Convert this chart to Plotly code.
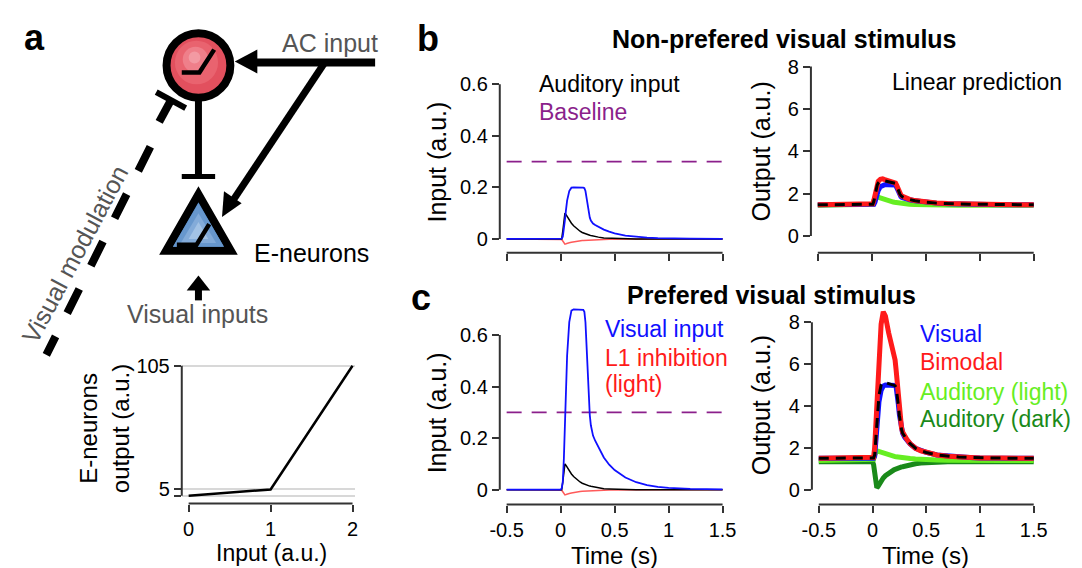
import plotly.graph_objects as go

W, H = 1082, 568
FONT = "Liberation Sans, Arial, sans-serif"
AX = "#333333"

# ---------------- data ----------------
# panel a inset: threshold-linear transfer function
inset_input = [0, 1, 2]
inset_output = [0, 5, 105]

# time grid (s)
time = [-0.5, 0.0, 0.01, 0.02, 0.03, 0.04, 0.05, 0.06, 0.08, 0.10, 0.12, 0.15, 0.18,
        0.20, 0.21, 0.22, 0.23, 0.24, 0.25, 0.26, 0.27, 0.28, 0.30, 0.32, 0.35,
        0.40, 0.45, 0.50, 0.60, 0.70, 0.80, 0.90, 1.00, 1.20, 1.50]

# inputs
auditory_input = [0, 0, 0.0, 0.03, 0.08, 0.10, 0.094, 0.087, 0.073, 0.061, 0.051, 0.039, 0.030,
                  0.025, 0.023, 0.021, 0.019, 0.018, 0.016, 0.015, 0.014, 0.013, 0.011, 0.009, 0.007,
                  0.004, 0.003, 0.002, 0.001, 0, 0, 0, 0, 0, 0]
l1_inhibition = [0, 0, -0.002, -0.008, -0.015, -0.020, -0.019, -0.017, -0.015, -0.013, -0.011, -0.009, -0.007,
                 -0.006, -0.0057, -0.0054, -0.0051, -0.0048, -0.0045, -0.0043, -0.004, -0.0038, -0.0034, -0.003, -0.0025,
                 -0.0018, -0.0013, -0.001, -0.0005, -0.0002, 0, 0, 0, 0, 0]
visual_input_nonpref = [0, 0, 0.0014, 0.0086, 0.034, 0.074, 0.114, 0.149, 0.186, 0.199, 0.2, 0.2, 0.2,
                        0.2, 0.199, 0.197, 0.186, 0.16, 0.129, 0.103, 0.083, 0.071, 0.06, 0.054, 0.047,
                        0.036, 0.028, 0.022, 0.013, 0.008, 0.005, 0.003, 0.002, 0.001, 0]
visual_input_pref = [0, 0, 0.005, 0.03, 0.12, 0.26, 0.40, 0.52, 0.65, 0.695, 0.70, 0.70, 0.70,
                     0.70, 0.698, 0.69, 0.65, 0.56, 0.45, 0.36, 0.29, 0.25, 0.21, 0.19, 0.165,
                     0.125, 0.097, 0.076, 0.047, 0.029, 0.018, 0.011, 0.007, 0.003, 0.001]
baseline_level = 0.3

# outputs, non-preferred stimulus
np_bimodal = [1.47, 1.47, 1.52, 1.7, 2.0, 2.25, 2.45, 2.58, 2.68, 2.7, 2.66, 2.6, 2.57,
              2.55, 2.54, 2.5, 2.4, 2.25, 2.1, 2.0, 1.93, 1.88, 1.82, 1.78, 1.73,
              1.67, 1.63, 1.6, 1.56, 1.53, 1.51, 1.5, 1.49, 1.48, 1.47]
np_visual = [1.47, 1.47, 1.48, 1.5, 1.6, 1.8, 2.0, 2.15, 2.33, 2.4, 2.42, 2.42, 2.42,
             2.42, 2.42, 2.4, 2.3, 2.15, 2.02, 1.93, 1.86, 1.82, 1.78, 1.75, 1.71,
             1.66, 1.62, 1.59, 1.55, 1.52, 1.5, 1.49, 1.48, 1.47, 1.47]
np_aud_light = [1.45, 1.45, 1.5, 1.65, 1.8, 1.86, 1.84, 1.82, 1.78, 1.74, 1.71, 1.66, 1.62,
                1.6, 1.59, 1.58, 1.57, 1.56, 1.55, 1.55, 1.54, 1.53, 1.52, 1.51, 1.5,
                1.48, 1.47, 1.46, 1.45, 1.45, 1.45, 1.45, 1.45, 1.45, 1.45]
np_linear = [1.47, 1.47, 1.5, 1.65, 1.95, 2.2, 2.4, 2.5, 2.6, 2.62, 2.6, 2.57, 2.55,
             2.53, 2.52, 2.48, 2.38, 2.22, 2.08, 1.98, 1.91, 1.86, 1.81, 1.77, 1.72,
             1.66, 1.62, 1.59, 1.55, 1.52, 1.51, 1.5, 1.49, 1.48, 1.47]

# outputs, preferred stimulus
p_bimodal = [1.5, 1.5, 1.55, 2.0, 3.2, 4.5, 5.6, 6.6, 7.9, 8.5, 8.3, 7.5, 6.9,
             6.5, 6.2, 5.7, 5.1, 4.4, 3.8, 3.3, 2.95, 2.75, 2.55, 2.4, 2.2,
             1.98, 1.86, 1.78, 1.66, 1.6, 1.56, 1.54, 1.52, 1.51, 1.5]
p_visual = [1.5, 1.5, 1.5, 1.6, 2.2, 3.0, 3.7, 4.2, 4.75, 4.95, 5.0, 5.0, 5.0,
            5.0, 4.98, 4.9, 4.6, 4.1, 3.6, 3.2, 2.9, 2.7, 2.5, 2.36, 2.19,
            1.98, 1.86, 1.78, 1.66, 1.6, 1.56, 1.54, 1.52, 1.51, 1.5]
p_linear = [1.5, 1.5, 1.52, 1.65, 2.4, 3.3, 4.0, 4.5, 5.0, 5.15, 5.12, 5.07, 5.03,
            5.0, 4.97, 4.88, 4.55, 4.05, 3.55, 3.15, 2.88, 2.7, 2.52, 2.37, 2.2,
            1.98, 1.86, 1.78, 1.66, 1.6, 1.56, 1.54, 1.52, 1.51, 1.5]
p_aud_light = [1.4, 1.4, 1.45, 1.65, 1.8, 1.85, 1.84, 1.82, 1.78, 1.74, 1.7, 1.65, 1.61,
               1.59, 1.58, 1.57, 1.56, 1.55, 1.54, 1.54, 1.53, 1.53, 1.52, 1.51, 1.49,
               1.47, 1.45, 1.44, 1.42, 1.41, 1.4, 1.4, 1.4, 1.4, 1.4]
p_aud_dark = [1.34, 1.34, 1.2, 0.7, 0.25, 0.1, 0.15, 0.25, 0.42, 0.56, 0.67, 0.8, 0.9,
              0.95, 0.97, 1.0, 1.02, 1.04, 1.06, 1.07, 1.09, 1.1, 1.13, 1.16, 1.19,
              1.24, 1.27, 1.29, 1.32, 1.33, 1.34, 1.34, 1.34, 1.34, 1.34]

time_ticks = [-0.5, 0, 0.5, 1, 1.5]
time_tick_text = ["-0.5", "0", "0.5", "1", "1.5"]
input_ticks = [0, 0.2, 0.4, 0.6]
input_tick_text = ["0", "0.2", "0.4", "0.6"]
output_ticks = [0, 2, 4, 6, 8]
output_tick_text = ["0", "2", "4", "6", "8"]

# colours
BLUE = "#1010ff"
RED = "#ff1a1a"
LRED = "#ff5a5a"
PURPLE = "#8b1f8b"
LGREEN = "#66ee22"
DGREEN = "#1a8a1a"
GREY_TXT = "#555555"

# ---------------- helpers ----------------
def X(p):
    return p / W


def Y(p):
    return 1 - p / H


fig = go.Figure()


def line(x, y, ax, color, width, dash=None):
    fig.add_trace(go.Scatter(x=x, y=y, xaxis="x" + ax, yaxis="y" + ax, mode="lines",
                             line=dict(color=color, width=width, dash=dash),
                             hoverinfo="skip", showlegend=False))


# inset
line(inset_input, inset_output, "", "black", 2.5)
# b left
line([time[0], time[-1]], [baseline_level, baseline_level], "2", PURPLE, 1.8, "15px,10px")
line(time, l1_inhibition, "2", LRED, 1.5)
line(time, auditory_input, "2", "black", 1.5)
line(time, visual_input_nonpref, "2", BLUE, 1.8)
# b right
line(time, np_aud_light, "3", LGREEN, 5)
line(time, np_visual, "3", BLUE, 5)
line(time, np_bimodal, "3", RED, 5)
line(time, np_linear, "3", "black", 3, "10px,7px")
# c left
line([time[0], time[-1]], [baseline_level, baseline_level], "4", PURPLE, 1.8, "15px,10px")
line(time, l1_inhibition, "4", LRED, 1.5)
line(time, auditory_input, "4", "black", 1.5)
line(time, visual_input_pref, "4", BLUE, 1.8)
# c right
line(time, p_aud_dark, "5", DGREEN, 5)
line(time, p_aud_light, "5", LGREEN, 5)
line(time, p_visual, "5", BLUE, 5)
line(time, p_bimodal, "5", RED, 5)
line(time, p_linear, "5", "black", 3, "10px,7px")

tickfont = dict(family=FONT, size=20, color="black")


def xax(dom, rng, labels, anchor, ticks, text):
    return dict(domain=[X(dom[0]), X(dom[1])], range=rng, anchor=anchor,
                tickmode="array", tickvals=ticks, ticktext=text, showticklabels=labels,
                ticks="outside", ticklen=7, tickwidth=2, tickcolor=AX, tickfont=tickfont,
                showgrid=False, zeroline=False, showline=False, fixedrange=True)


def yax(dom, rng, anchor, ticks, text, grid=False):
    return dict(domain=[Y(dom[1]), Y(dom[0])], range=rng, anchor=anchor,
                tickmode="array", tickvals=ticks, ticktext=text,
                ticks="outside", ticklen=7, tickwidth=2, tickcolor=AX, tickfont=tickfont,
                showgrid=grid, gridcolor="#d8d8d8", gridwidth=1.5,
                zeroline=False, showline=False, fixedrange=True)


layout = dict(
    width=W, height=H, margin=dict(l=0, r=0, t=0, b=0),
    paper_bgcolor="white", plot_bgcolor="rgba(0,0,0,0)",
    font=dict(family=FONT, color="black"), showlegend=False,
    xaxis=xax((175, 352), [-0.084, 2.036], True, "y", [0, 1, 2], ["0", "1", "2"]),
    yaxis=yax((358, 503), [-6.41, 109.8], "x", [0, 5, 105], ["", "5", "105"], grid=True),
    xaxis2=xax((499, 730), [-0.5636, 1.5364], False, "y2", time_ticks, time_tick_text),
    yaxis2=yax((70, 250), [-0.0538, 0.6385], "x2", input_ticks, input_tick_text),
    xaxis3=xax((816, 1047), [-0.5636, 1.5364], False, "y3", time_ticks, time_tick_text),
    yaxis3=yax((55, 250), [-0.795, 8.33], "x3", output_ticks, output_tick_text),
    xaxis4=xax((499, 730), [-0.5636, 1.5364], True, "y4", time_ticks, time_tick_text),
    yaxis4=yax((300, 504), [-0.0577, 0.727], "x4", input_ticks, input_tick_text),
    xaxis5=xax((817, 1047), [-0.564, 1.5365], True, "y5", time_ticks, time_tick_text),
    yaxis5=yax((300, 504), [-0.71, 8.95], "x5", output_ticks, output_tick_text),
)
fig.update_layout(**layout)

shapes = []


def axis_lines(ax, xr, yr):
    shapes.append(dict(type="line", xref="x" + ax, yref="y" + ax + " domain", x0=xr[0], x1=xr[1],
                       y0=0, y1=0, line=dict(color=AX, width=2)))
    shapes.append(dict(type="line", xref="x" + ax + " domain", yref="y" + ax, x0=0, x1=0,
                       y0=yr[0], y1=yr[1], line=dict(color=AX, width=2)))


axis_lines("", (0, 2), (0, 105))
axis_lines("2", (-0.5, 1.5), (0, 0.6))
axis_lines("3", (-0.5, 1.5), (0, 8))
axis_lines("4", (-0.5, 1.5), (0, 0.6))
axis_lines("5", (-0.5, 1.5), (0, 8))


def path(pts, fill=None, color="black", width=0, close=True):
    d = "M " + " L ".join(f"{X(a):.5f},{Y(b):.5f}" for a, b in pts)
    if close:
        d += " Z"
    s = dict(type="path", xref="paper", yref="paper", path=d, layer="above",
             line=dict(color=color, width=width))
    if fill:
        s["fillcolor"] = fill
    return s


def seg(p0, p1, width, color="black", dash=None):
    return dict(type="line", xref="paper", yref="paper", x0=X(p0[0]), y0=Y(p0[1]),
                x1=X(p1[0]), y1=Y(p1[1]), layer="above",
                line=dict(color=color, width=width, dash=dash))


def circ(cx, cy, r, fill, lw=0, lc="black"):
    return dict(type="circle", xref="paper", yref="paper", x0=X(cx - r), x1=X(cx + r),
                y0=Y(cy + r), y1=Y(cy - r), fillcolor=fill, layer="above",
                line=dict(color=lc, width=lw))


# --- diagram a ---
# inhibitory neuron (red circle)
shapes.append(circ(192, 61, 32.5, "#e2505e", 8))
shapes.append(circ(190, 58, 22, "#e9636f"))
shapes.append(circ(189, 55, 13, "#ef7f8a"))
shapes.append(circ(188, 53, 6, "#f39aa3"))
shapes.append(path([(175, 68), (193, 68), (208, 45)], color="black", width=4.5, close=False))
# inhibitory connection to E-neurons
shapes.append(seg((192, 96), (192, 173), 7))
shapes.append(seg((175, 173), (209, 173), 5))
# E-neuron (blue triangle)
shapes.append(path([(192, 191), (159, 248), (225, 248)], fill="#4f86c4", color="black", width=8))
shapes.append(path([(192, 200), (166, 244), (218, 244)], fill="#6797cd"))
shapes.append(path([(192, 210), (174, 240), (210, 240)], fill="#83abd9"))
shapes.append(path([(192, 219), (182, 236), (202, 236)], fill="#a2c2e5"))
shapes.append(path([(170, 242), (190, 242), (203, 221)], color="black", width=4.5, close=False))
# AC input arrows
shapes.append(seg((249, 58), (372, 58), 8))
shapes.append(path([(229, 57), (252, 45), (252, 69)], fill="black"))
shapes.append(seg((320, 59), (228, 196), 7))
shapes.append(path([(216, 214), (218, 188), (236, 200)], fill="black"))
# visual inputs arrow
shapes.append(seg((192, 285), (192, 298), 7))
shapes.append(path([(192, 273), (180, 288), (204, 288)], fill="black"))
# visual modulation dashed line with inhibitory bar
shapes.append(seg((164, 96), (152, 118), 8))
shapes.append(seg((149, 88), (179, 104), 6))
shapes.append(seg((143, 143), (37, 353), 8, dash="27px,26px"))

fig.update_layout(shapes=shapes)

ann = []


def txt(s, x, y, size=23, color="black", xa="center", bold=False, angle=0):
    if bold:
        s = "<b>" + s + "</b>"
    ann.append(dict(text=s, x=X(x), y=Y(y), xref="paper", yref="paper", showarrow=False,
                    xanchor=xa, yanchor="middle", textangle=angle, borderpad=0,
                    font=dict(family=FONT, size=size, color=color)))


# panel letters & titles
txt("a", 25, 33, 36, bold=True)
txt("b", 426, 34, 36, bold=True)
txt("c", 419, 295, 36, bold=True)
txt("Non-prefered visual stimulus", 789, 34, 25, bold=True)
txt("Prefered visual stimulus", 776, 293, 25, bold=True)
# diagram texts
txt("AC input", 326, 38, 25, GREY_TXT)
txt("E-neurons", 307, 250, 25)
txt("Visual inputs", 191, 312, 25, GREY_TXT)
txt("Visual modulation", 66, 251, 25, GREY_TXT, angle=-62)
# inset labels
txt("E-neurons", 80, 427, 24, angle=-90)
txt("output (a.u.)", 112, 427, 24, angle=-90)
txt("Input (a.u.)", 266, 553, 23)
# axis titles
txt("Input (a.u.)", 435, 158, 25, angle=-90)
txt("Output (a.u.)", 765, 148, 25, angle=-90)
txt("Input (a.u.)", 435, 411, 25, angle=-90)
txt("Output (a.u.)", 766, 404, 25, angle=-90)
txt("Time (s)", 616, 555, 24)
txt("Time (s)", 933, 555, 24)
# in-plot labels
txt("Auditory input", 538, 80, 23, xa="left")
txt("Baseline", 538, 108, 23, PURPLE, xa="left")
txt("Linear prediction", 898, 78, 23, xa="left")
txt("Visual input", 605, 327, 23, BLUE, xa="left")
txt("L1 inhibition", 605, 356, 23, RED, xa="left")
txt("(light)", 605, 382, 23, RED, xa="left")
txt("Visual", 926, 332, 23, BLUE, xa="left")
txt("Bimodal", 926, 360, 23, RED, xa="left")
txt("Auditory (light)", 926, 390, 23, LGREEN, xa="left")
txt("Auditory (dark)", 926, 418, 23, DGREEN, xa="left")

fig.update_layout(annotations=ann)
fig.write_html("out.html")
